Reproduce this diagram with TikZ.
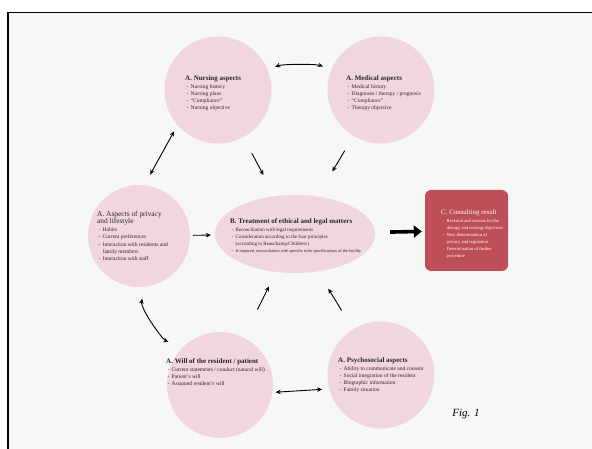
\documentclass[tikz,border=0pt]{standalone}
\usepackage{fontspec}
\setmainfont{Liberation Serif}
\usetikzlibrary{shapes.geometric,arrows.meta}
\definecolor{paper}{RGB}{246,247,247}
\definecolor{pinkfill}{RGB}{241,214,223}
\definecolor{resfill}{RGB}{190,78,88}
\newcommand{\ttl}[1]{{\fontsize{7}{8}\selectfont\bfseries #1}}
\newcommand{\itm}[1]{\hspace*{1.5pt}\makebox[4pt][l]{-}#1}
\newcommand{\cnt}[1]{\hspace*{5.5pt}#1}
\tikzset{
  circ/.style={circle, fill=pinkfill, minimum size=107pt, inner sep=0pt},
  ellnode/.style={ellipse, fill=pinkfill, minimum width=160pt, minimum height=78pt, inner sep=0pt},
  resbox/.style={rectangle, rounded corners=6pt, fill=resfill, minimum width=83pt, minimum height=81pt, inner sep=0pt},
  txt/.style={anchor=north west, align=left, inner sep=0pt, font=\fontsize{5.5}{7.2}\selectfont, text=black!85},
  arr/.style={line width=0.9pt, -{Stealth[length=5pt,width=4.5pt]}},
  arrtwo/.style={line width=0.9pt, {Stealth[length=5pt,width=4.5pt]}-{Stealth[length=5pt,width=4.5pt]}},
  bigarr/.style={line width=3.6pt, -{Triangle[length=8pt,width=12pt]}}
}
\begin{document}
\begin{tikzpicture}[x=1pt,y=-1pt]
\useasboundingbox (0,0) rectangle (592,449);
\fill[white] (0,0) rectangle (592,449);
\fill[paper] (8,12.5) rectangle (592,449);
\draw[line width=1.8pt] (8,449) -- (8,12.5) -- (592,12.5);

\node[circ] (nursing) at (218,90) {};
\node[circ] (medical) at (381,90) {};
\node[circ, minimum size=102pt] (privacy) at (139,236) {};
\node[ellnode] (center) at (295,234) {};
\node[resbox] (result) at (466.5,230.5) {};
\node[circ, minimum size=106pt] (will) at (220,385) {};
\node[circ] (psycho) at (381,375) {};

\node[txt] (nursingtxt) at (185,75.5) {\ttl{A. Nursing aspects}\\[0.6pt]
  \itm{Nursing history}\\ \itm{Nursing plans}\\ \itm{``Compliance''}\\ \itm{Nursing objective}};
\node[txt] (medicaltxt) at (346,75.5) {\ttl{A. Medical aspects}\\[0.6pt]
  \itm{Medical history}\\ \itm{Diagnoses / therapy / prognosis}\\ \itm{``Compliance''}\\ \itm{Therapy objective}};
\node[txt] (privacytxt) at (97,211.2) {{\fontsize{7.4}{7.6}\selectfont A. Aspects of privacy}\\
  {\fontsize{7.4}{7.6}\selectfont and lifestyle}\\[0.6pt]
  \itm{Habits}\\ \itm{Current preferences}\\ \itm{Interaction with residents and}\\
  \cnt{family members}\\ \itm{Interaction with staff}};
\node[txt, font=\fontsize{5}{7}\selectfont] (centertxt) at (230,218.5) {\ttl{B. Treatment of ethical and legal matters}\\[0.8pt]
  \itm{Reconciliation with legal requirements}\\
  \itm{Consideration according to the four principles}\\
  \cnt{(according to Beauchamp/Childress)}\\
  \itm{{\fontsize{4.3}{7}\selectfont If required, reconciliation with specific rules specifications of the facility}}};
\node[txt, text=white, font=\fontsize{4.6}{7}\selectfont] (resulttxt) at (441,210) {{\fontsize{6.9}{8}\selectfont C. Consulting result}\\[0.6pt]
  \itm{Revision and reasons for the}\\ \cnt{therapy and nursing objectives}\\
  \itm{New determination of}\\ \cnt{privacy and regulation}\\
  \itm{Determination of further}\\ \cnt{procedure}};
\node[txt] (willtxt) at (166,358.5) {\ttl{A. Will of the resident / patient}\\[0.6pt]
  \itm{Current statements / conduct (natural will)}\\ \itm{Patient's will}\\ \itm{Assumed resident's will}};
\node[txt] (psychotxt) at (338,357.5) {\ttl{A. Psychosocial aspects}\\[0.6pt]
  \itm{Ability to communicate and consent}\\ \itm{Social integration of the resident}\\
  \itm{Biographic information}\\ \itm{Family situation}};

\node[font=\itshape\fontsize{11}{12}\selectfont, inner sep=0pt] (figlabel) at (466,414) {Fig. 1};

% connectors
\draw[arrtwo, shorten <=8pt, shorten >=9pt] (nursing.22) .. controls +(15,-6) and +(-15,-6) .. (medical.158);
\draw[arrtwo, shorten <=7pt, shorten >=12pt] (nursing.221) -- (privacy.84);
\draw[arrtwo, shorten <=12pt, shorten >=15pt] (privacy.276) .. controls +(-4,22) and +(-20,-8) .. (will.135);
\draw[arrtwo, shorten <=3pt, shorten >=7pt] (will.-8) -- (psycho.195);

\draw[arr, shorten <=18pt, shorten >=24pt] (nursing) -- (center);
\draw[arr, shorten <=17pt, shorten >=29pt] (medical) -- (center);
\draw[arr, shorten <=3pt, shorten >=4pt] (privacy) -- (center);
\draw[arr, shorten <=31pt, shorten >=16pt] (will) -- (center);
\draw[arr, shorten <=22pt, shorten >=20pt] (psycho) -- (center);
\draw[bigarr, shorten <=15pt, shorten >=3pt] (center) -- (result);
\end{tikzpicture}
\end{document}
